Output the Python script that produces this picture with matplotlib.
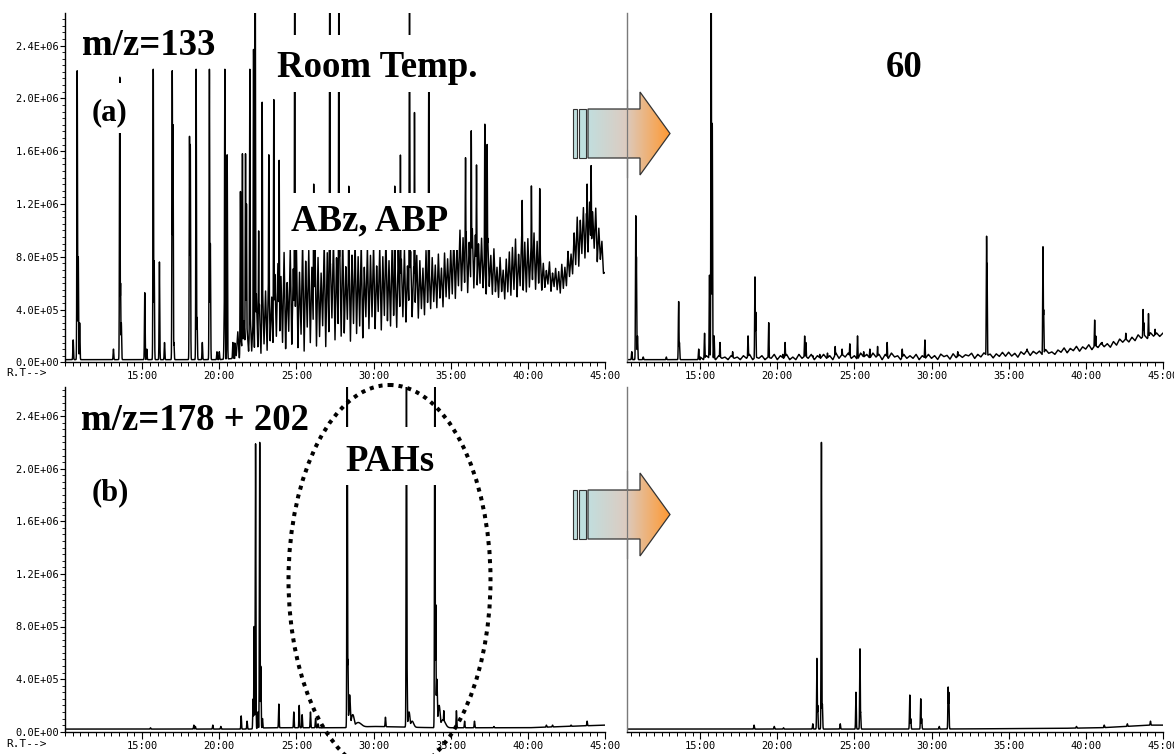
import numpy as np
import matplotlib
matplotlib.use("Agg")
import matplotlib.pyplot as plt
from matplotlib.patches import Rectangle, Ellipse, Polygon
from matplotlib.ticker import MultipleLocator, FixedLocator, FuncFormatter

# ---------------------------------------------------------------- data
# Intensities are in units of 1E+06 counts, retention times in minutes.

# (a) m/z = 133, room temperature
a_base_t = [10, 20, 21, 23, 25, 27, 29, 31, 33, 34.5, 35.5, 37, 38, 39.5, 41, 42.3, 43.2, 44.2, 44.7, 45]
a_base_v = [0.02, 0.02, 0.03, 0.04, 0.06, 0.08, 0.12, 0.22, 0.32, 0.42, 0.50, 0.52, 0.47, 0.50, 0.55, 0.52, 0.70, 0.78, 0.70, 0.60]
a_peak_rt = [10.53, 10.79, 10.86, 10.95, 13.14, 13.55, 13.60, 13.65, 15.17, 15.30,
             15.72, 15.78, 16.12, 16.45, 16.95, 17.00, 17.06, 18.07, 18.12, 18.50,
             18.56, 18.90, 19.36, 19.42, 19.85, 20.00, 20.32, 20.36, 20.51, 20.88,
             21.37, 21.50, 21.70, 21.76, 21.98, 22.22, 22.33, 22.55, 22.78, 23.21,
             23.53, 23.88, 24.89, 26.12, 27.16, 27.75, 28.39, 31.37, 31.74, 32.33,
             32.65, 33.58, 35.96, 36.33, 36.67, 37.21, 37.36, 39.63, 40.23, 40.77,
             43.84, 44.10]
a_peak_h = [0.17, 2.22, 0.80, 0.30, 0.10, 2.17, 0.60, 0.30, 0.53, 0.10,
            2.22, 0.77, 0.76, 0.15, 2.22, 1.80, 0.15, 1.72, 1.65, 2.22,
            0.34, 0.15, 2.22, 0.90, 0.08, 0.08, 0.34, 2.22, 1.58, 0.15,
            1.30, 1.58, 1.58, 1.20, 2.22, 2.37, 3.00, 1.00, 1.97, 1.58,
            2.00, 1.53, 3.00, 1.35, 3.00, 3.00, 1.34, 1.34, 1.57, 3.00,
            1.90, 2.30, 1.55, 1.76, 1.50, 1.81, 1.65, 1.23, 1.34, 1.32,
            1.35, 1.49]
# unresolved matrix background, trace offset above baseline every 0.1 min from 21.0 min
a_grass_start = 21.0
a_grass_step = 0.1
a_grass_h = [
    0.12, 0.02, 0.20, 0.00, 0.15, 0.04, 0.28, 0.02, 0.22, 0.05,
    0.35, 0.05, 0.30, 0.00, 0.48, 0.08, 0.40, 0.03, 0.55, 0.10,
    0.50, 0.05, 0.68, 0.12, 0.45, 0.02, 0.62, 0.15, 0.70, 0.06,
    0.60, 0.10, 0.78, 0.05, 0.55, 0.18, 0.80, 0.08, 0.65, 0.15,
    0.82, 0.05, 0.62, 0.15, 0.85, 0.02, 0.70, 0.20, 0.78, 0.08,
    0.65, 0.18, 0.85, 0.05, 0.72, 0.12, 0.60, 0.20, 0.83, 0.04,
    0.75, 0.15, 0.68, 0.25, 0.85, 0.08, 0.70, 0.20, 0.80, 0.10,
    0.85, 0.12, 0.62, 0.22, 0.78, 0.05, 0.70, 0.18, 0.82, 0.10,
    0.68, 0.15, 0.78, 0.05, 0.58, 0.20, 0.72, 0.10, 0.65, 0.18,
    0.72, 0.08, 0.55, 0.20, 0.68, 0.05, 0.60, 0.15, 0.74, 0.10,
    0.55, 0.05, 0.65, 0.12, 0.48, 0.02, 0.60, 0.15, 0.52, 0.08,
    0.58, 0.03, 0.45, 0.12, 0.55, 0.05, 0.42, 0.15, 0.50, 0.02,
    0.45, 0.08, 0.38, 0.02, 0.50, 0.10, 0.36, 0.04, 0.42, 0.08,
    0.35, 0.02, 0.42, 0.08, 0.30, 0.00, 0.40, 0.06, 0.34, 0.03,
    0.40, 0.05, 0.48, 0.00, 0.38, 0.08, 0.50, 0.04, 0.44, 0.10,
    0.48, 0.02, 0.40, 0.10, 0.50, 0.05, 0.45, 0.00, 0.38, 0.08,
    0.42, 0.05, 0.35, 0.00, 0.44, 0.08, 0.32, 0.03, 0.38, 0.06,
    0.25, 0.02, 0.32, 0.06, 0.22, 0.00, 0.30, 0.05, 0.35, 0.02,
    0.38, 0.06, 0.44, 0.00, 0.32, 0.08, 0.45, 0.04, 0.40, 0.02,
    0.42, 0.05, 0.35, 0.10, 0.45, 0.02, 0.38, 0.06, 0.30, 0.00,
    0.20, 0.02, 0.15, 0.05, 0.22, 0.00, 0.14, 0.04, 0.18, 0.02,
    0.16, 0.00, 0.22, 0.04, 0.18, 0.02, 0.26, 0.05, 0.20, 0.03,
    0.32, 0.06, 0.40, 0.02, 0.36, 0.10, 0.44, 0.05, 0.38, 0.08,
    0.45, 0.05, 0.36, 0.10, 0.42, 0.03, 0.30, 0.08, 0.25, 0.04,
    0.08]

# (a') m/z = 133 after 60
a60_base_t = [10, 20, 25, 30, 36, 38, 40, 42, 43, 44, 45]
a60_base_v = [0.02, 0.02, 0.02, 0.02, 0.04, 0.05, 0.08, 0.11, 0.14, 0.16, 0.18]
a60_peak_rt = [10.56, 10.82, 10.86, 10.93, 11.30, 12.80, 13.60, 13.65, 14.90, 15.28,
               15.60, 15.71, 15.78, 15.90, 16.28, 17.10, 18.10, 18.55, 18.60, 19.44,
               20.35, 20.50, 21.77, 21.85, 22.30, 22.75, 23.25, 23.75, 24.20, 24.70,
               25.20, 25.60, 26.00, 26.50, 27.12, 28.10, 29.57, 31.70, 33.57, 33.60,
               36.20, 37.23, 37.27, 39.48, 40.58, 40.65, 41.06, 42.20, 42.60, 43.72,
               43.77, 44.07, 44.50]
a60_peak_h = [0.08, 1.11, 0.80, 0.20, 0.04, 0.04, 0.46, 0.15, 0.10, 0.22,
              0.66, 3.00, 1.81, 0.20, 0.15, 0.08, 0.20, 0.65, 0.38, 0.30,
              0.06, 0.15, 0.20, 0.15, 0.05, 0.06, 0.07, 0.12, 0.10, 0.14,
              0.20, 0.08, 0.10, 0.12, 0.15, 0.10, 0.17, 0.08, 0.96, 0.75,
              0.10, 0.88, 0.40, 0.10, 0.32, 0.20, 0.15, 0.17, 0.22, 0.40,
              0.30, 0.37, 0.25]
# baseline noise, offset above baseline every 0.2 min from 15.0 min
a60_grass_start = 15.0
a60_grass_step = 0.2
a60_grass_h = [
    0.02, 0.00, 0.03, 0.01, 0.02, 0.00, 0.03, 0.01, 0.02, 0.00,
    0.03, 0.01, 0.02, 0.00, 0.03, 0.01, 0.04, 0.00, 0.02, 0.01,
    0.03, 0.00, 0.02, 0.01, 0.04, 0.00, 0.03, 0.01, 0.04, 0.00,
    0.02, 0.00, 0.04, 0.01, 0.03, 0.01, 0.04, 0.00, 0.03, 0.01,
    0.04, 0.01, 0.03, 0.00, 0.05, 0.01, 0.04, 0.02, 0.05, 0.01,
    0.03, 0.00, 0.05, 0.02, 0.04, 0.01, 0.05, 0.02, 0.04, 0.00,
    0.04, 0.01, 0.05, 0.02, 0.03, 0.00, 0.04, 0.01, 0.03, 0.01,
    0.04, 0.00, 0.03, 0.01, 0.04, 0.01, 0.03, 0.00, 0.04, 0.02,
    0.03, 0.00, 0.04, 0.01, 0.03, 0.01, 0.03, 0.02, 0.04, 0.00,
    0.03, 0.01, 0.04, 0.02, 0.03, 0.00, 0.03, 0.01, 0.04, 0.01,
    0.04, 0.01, 0.03, 0.00, 0.04, 0.02, 0.05, 0.01, 0.04, 0.02,
    0.04, 0.01, 0.05, 0.02, 0.03, 0.01, 0.04, 0.02, 0.05, 0.01,
    0.04, 0.02, 0.05, 0.01, 0.04, 0.02, 0.05, 0.01, 0.04, 0.02,
    0.05, 0.02, 0.04, 0.01, 0.05, 0.02, 0.06, 0.03, 0.05, 0.02,
    0.05, 0.02, 0.06, 0.03, 0.05, 0.02, 0.06, 0.03, 0.05, 0.02,
    0.04]

# (b) m/z = 178 + 202, room temperature
b_base_t = [10, 22, 23, 28, 30, 34, 36, 40, 45]
b_base_v = [0.02, 0.02, 0.03, 0.03, 0.04, 0.03, 0.03, 0.03, 0.05]
b_peak_rt = [15.54, 18.35, 18.45, 19.58, 20.10, 21.42, 21.80, 22.19, 22.26, 22.35,
             22.50, 22.62, 22.69, 22.80, 23.86, 24.83, 25.18, 25.37, 25.91, 26.24,
             26.40, 27.00, 28.29, 28.34, 28.45, 28.65, 29.00, 30.77, 32.10, 32.13,
             32.17, 32.30, 32.50, 33.97, 34.03, 34.10, 34.25, 34.50, 34.55, 35.37,
             35.90, 36.54, 37.80, 39.40, 41.20, 41.60, 42.80, 43.84]
b_peak_h = [0.03, 0.05, 0.04, 0.05, 0.04, 0.12, 0.08, 0.25, 0.80, 2.20,
            0.15, 2.20, 0.50, 0.10, 0.21, 0.15, 0.20, 0.13, 0.15, 0.10,
            0.06, 0.03, 3.00, 0.55, 0.28, 0.13, 0.07, 0.11, 0.10, 3.00,
            0.50, 0.15, 0.08, 3.00, 0.97, 0.40, 0.20, 0.09, 0.16, 0.16,
            0.08, 0.08, 0.04, 0.03, 0.05, 0.05, 0.05, 0.08]
b_peak_w = [0.02] * len(b_peak_rt)
for _rt, _w in [(28.45, 0.05), (28.65, 0.10), (29.00, 0.20), (32.30, 0.06),
                (32.50, 0.10), (34.10, 0.04), (34.25, 0.07), (34.50, 0.15)]:
    b_peak_w[b_peak_rt.index(_rt)] = _w

# (b') m/z = 178 + 202 after 60
b60_base_t = [10, 30, 38, 41, 42.6, 44, 45]
b60_base_v = [0.02, 0.02, 0.025, 0.03, 0.04, 0.05, 0.05]
b60_peak_rt = [18.49, 19.80, 20.40, 22.30, 22.57, 22.62, 22.86, 22.92, 24.08, 25.10,
               25.36, 25.40, 28.59, 28.65, 29.30, 29.36, 30.50, 31.08, 31.12, 39.40,
               41.20, 42.70, 44.20]
b60_peak_h = [0.05, 0.04, 0.03, 0.06, 0.56, 0.20, 2.20, 0.21, 0.06, 0.30,
              0.63, 0.15, 0.28, 0.10, 0.25, 0.10, 0.04, 0.34, 0.30, 0.04,
              0.05, 0.06, 0.08]

y_ticks = [0.0, 0.4, 0.8, 1.2, 1.6, 2.0, 2.4]
x_ticks = [15, 20, 25, 30, 35, 40, 45]

# ---------------------------------------------------------------- traces
t = np.arange(10.0, 45.0001, 0.004)


def trace(base_t, base_v, rts, hs, ws=None, w0=0.02, grass=None):
    base = np.interp(t, base_t, base_v)
    rts = np.asarray(rts, float)
    amps = np.asarray(hs, float) - np.interp(rts, base_t, base_v)
    ws = np.full(len(rts), w0) if ws is None else np.asarray(ws, float)
    sig = np.zeros_like(t)
    for r, a, w in zip(rts, amps, ws):
        sig = np.maximum(sig, a * np.exp(-0.5 * ((t - r) / w) ** 2))
    if grass is not None:
        g_start, g_step, g_h = grass
        g_t = g_start + g_step * np.arange(len(g_h))
        sig = np.maximum(sig, np.interp(t, g_t, g_h, left=0.0, right=0.0))
    return base + sig


tr_a = trace(a_base_t, a_base_v, a_peak_rt, a_peak_h,
             grass=(a_grass_start, a_grass_step, a_grass_h))
tr_a60 = trace(a60_base_t, a60_base_v, a60_peak_rt, a60_peak_h,
               grass=(a60_grass_start, a60_grass_step, a60_grass_h))
tr_b = trace(b_base_t, b_base_v, b_peak_rt, b_peak_h, ws=b_peak_w)
tr_b60 = trace(b60_base_t, b60_base_v, b60_peak_rt, b60_peak_h)

# ---------------------------------------------------------------- figure
W, H = 1174, 754
fig = plt.figure(figsize=(W / 100, H / 100), dpi=100)
fig.patch.set_facecolor("white")

MONO = "DejaVu Sans Mono"
SERIF = "Liberation Serif"


def px_axes(x0, x1, y0, y1):
    return fig.add_axes([x0 / W, 1 - y1 / H, (x1 - x0) / W, (y1 - y0) / H])


def style_axes(ax, left_labels, ytop, xmin):
    ax.set_xlim(xmin, 45)
    ax.set_ylim(0, ytop)
    ax.patch.set_alpha(0)
    for s in ("top", "right"):
        ax.spines[s].set_visible(False)
    ax.spines["bottom"].set_linewidth(1.0)
    ax.xaxis.set_major_locator(FixedLocator(x_ticks))
    ax.xaxis.set_minor_locator(MultipleLocator(0.5))
    ax.xaxis.set_major_formatter(FuncFormatter(lambda v, p: f"{int(round(v))}:00"))
    ax.tick_params(axis="x", which="major", length=5, width=0.8, pad=1.5,
                   labelsize=7.5, direction="out")
    ax.tick_params(axis="x", which="minor", length=3, width=0.7, direction="out")
    for lab in ax.get_xticklabels():
        lab.set_family(MONO)
    if left_labels:
        ax.spines["left"].set_linewidth(1.0)
        ax.yaxis.set_major_locator(FixedLocator(y_ticks))
        ax.yaxis.set_minor_locator(MultipleLocator(0.05))
        ax.yaxis.set_major_formatter(FuncFormatter(lambda v, p: f"{v * 1e6:.1E}"))
        ax.tick_params(axis="y", which="major", length=3.5, width=0.8, pad=0.5,
                       labelsize=7.5)
        ax.tick_params(axis="y", which="minor", length=2, width=0.6)
        for lab in ax.get_yticklabels():
            lab.set_family(MONO)
    else:
        ax.spines["left"].set_color("#7a7a7a")
        ax.spines["left"].set_linewidth(1.0)
        ax.set_yticks([])


LW = 1.05
ax_a = px_axes(65, 605, 13.3, 362.3)
ax_a.plot(t, tr_a, color="black", lw=LW)
style_axes(ax_a, True, 349.0 / 132.0, 10)

ax_a60 = px_axes(627, 1162.8, 13.3, 362.3)
ax_a60.plot(t, tr_a60, color="black", lw=LW)
style_axes(ax_a60, False, 349.0 / 132.0, 10.25)

ax_b = px_axes(65, 605, 386.7, 731.7)
ax_b.plot(t, tr_b, color="black", lw=LW)
style_axes(ax_b, True, 345.0 / 131.5, 10)

ax_b60 = px_axes(627, 1162.8, 386.7, 731.7)
ax_b60.plot(t, tr_b60, color="black", lw=LW)
style_axes(ax_b60, False, 345.0 / 131.5, 10.25)

# ---------------------------------------------------------------- overlay
ov = fig.add_axes([0, 0, 1, 1], zorder=10)
ov.set_xlim(0, W)
ov.set_ylim(H, 0)
ov.axis("off")
ov.patch.set_alpha(0)

for y in (373, 744):
    ov.text(6, y, "R.T-->", family=MONO, fontsize=8, va="center", ha="left")

# white label boxes that mask the traces
for (x0, x1, y0, y1) in [(85, 135, 83, 133), (272, 490, 35, 92),
                         (284, 458, 193, 250), (333, 447, 427, 485)]:
    ov.add_patch(Rectangle((x0, y0), x1 - x0, y1 - y0, fc="white", ec="none", zorder=1))

big = dict(family=SERIF, fontweight="bold", fontsize=26.5, va="baseline", ha="left", zorder=3)
mid = dict(family=SERIF, fontweight="bold", fontsize=22, va="baseline", ha="left", zorder=3)
ov.text(82, 55, "m/z=133", **big)
ov.text(277, 77, "Room Temp.", **big)
ov.text(92, 120, "(a)", **mid)
ov.text(291, 230, "ABz, ABP", **big)
ov.text(886, 77, "60", **big)
ov.text(81, 430, "m/z=178 + 202", **big)
ov.text(92, 500, "(b)", **mid)
ov.text(345, 471, "PAHs", **big)

# dotted ellipse around the PAH peaks
ov.add_patch(Ellipse((389.5, 580), 202, 390, fill=False, ec="black", lw=2.9,
                     linestyle=(0, (1, 1.25)), zorder=4))

# gradient arrows
grad = np.linspace(0, 1, 256)
c0 = np.array([0.76, 0.87, 0.87])
c1 = np.array([0.86, 0.80, 0.76])
c2 = np.array([1.00, 0.60, 0.20])
rgb = np.where(grad[:, None] < 0.45,
               c0 + (c1 - c0) * (grad[:, None] / 0.45),
               c1 + (c2 - c1) * ((grad[:, None] - 0.45) / 0.55))
grad_img = np.tile(rgb[None, :, :], (8, 1, 1))

for dy in (0, 381):
    top, bot, mid_y = 109 + dy, 158 + dy, 133.5 + dy
    pts = [(588, top), (640, top), (640, 92 + dy), (670, mid_y),
           (640, 175 + dy), (640, bot), (588, bot)]
    poly = Polygon(pts, closed=True, fc="none", ec="#333333", lw=0.9, zorder=6)
    im = ov.imshow(grad_img, extent=(588, 670, 175 + dy, 92 + dy), aspect="auto",
                   interpolation="bilinear", zorder=5)
    clip = Polygon(pts, closed=True, transform=ov.transData)
    im.set_clip_path(clip)
    ov.add_patch(poly)
    for (bx, bw) in ((573, 4), (579, 6.5)):
        ov.add_patch(Rectangle((bx, top), bw, bot - top, fc="#bfe0df",
                               ec="#333333", lw=0.8, zorder=6))
    ov.plot([627, 627], [90 + dy, 177 + dy], color="#7a7a7a", lw=0.9, zorder=7)

ov.set_xlim(0, W)
ov.set_ylim(H, 0)

fig.savefig("out.png", dpi=100)
